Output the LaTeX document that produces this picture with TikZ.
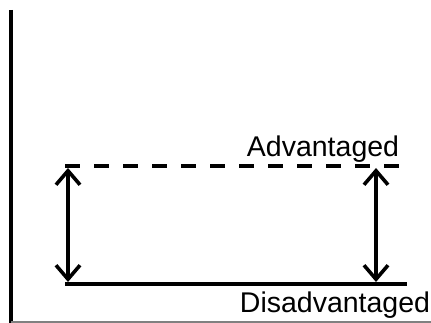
\documentclass[tikz,border=0pt]{standalone}
\usepackage{fontspec}
\setmainfont{Liberation Sans}
\usetikzlibrary{arrows.meta}
\tikzset{
  level/.style ={draw, line width=3.6pt},
  gap/.style ={draw, line width=3.6pt, {Straight Barb[length=14pt,width=24pt]}-{Straight Barb[length=14pt,width=24pt]}},
  lbl/.style ={font=\fontsize{28.5}{30}\selectfont, inner sep=0pt}
}
\begin{document}
\begin{tikzpicture}[x=1pt,y=1pt]
  \useasboundingbox (0,0) rectangle (431,323);
  % axes
  \coordinate (top) at (11,313);
  \coordinate (origin) at (11,0);
  \coordinate (right) at (431,1);
  \draw[line width=3.6pt] (top) -- (origin);
  \draw[gray, line width=1.2pt] (11,1) -- (right);

  % the two levels
  \coordinate (advL) at (65,157);
  \coordinate (advR) at (407,157);
  \coordinate (disL) at (65,39);
  \coordinate (disR) at (407,39);
  \path[level, dash pattern=on 15pt off 14pt] (advL) -- (advR);
  \path[level] (disL) -- (disR);

  \node[lbl, anchor=base] (adv) at (323,166) {Advantaged};
  \node[lbl, anchor=base] (dis) at (335,10) {Disadvantaged};

  % the gaps between them
  \coordinate (gapAtop) at (68,155);
  \coordinate (gapAbot) at (68,41);
  \coordinate (gapBtop) at (376,155);
  \coordinate (gapBbot) at (376,41);
  \begin{scope}[every path/.style=gap]
    \path (gapAtop) -- (gapAbot);
    \path (gapBtop) -- (gapBbot);
  \end{scope}

\end{tikzpicture}
\end{document}
